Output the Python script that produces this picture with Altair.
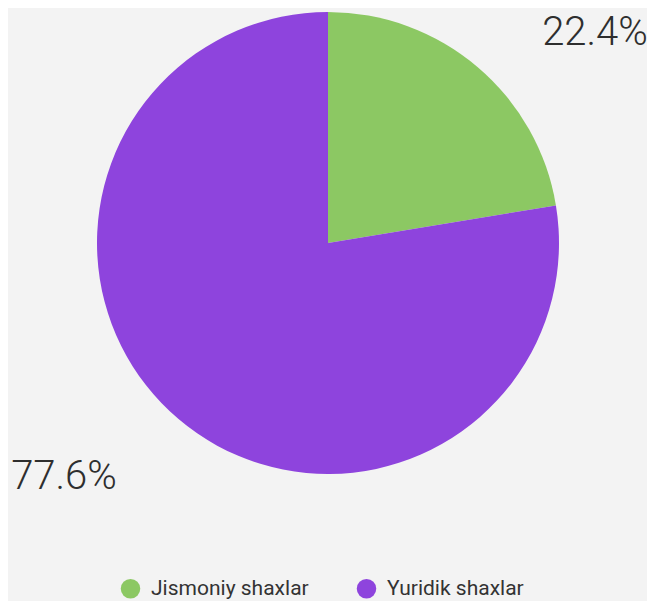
import altair as alt
import pandas as pd

categories = ["Jismoniy shaxlar", "Yuridik shaxlar"]
values = [22.4, 77.6]
labels = ["22.4%", "77.6%"]
colors = ["#8cc863", "#8e44dd"]

df = pd.DataFrame({"cat": categories, "val": values, "label": labels, "order": [0, 1]})

theta_scale = alt.Scale(domain=[0, 100])

pie = alt.Chart(df).mark_arc(radius=231, stroke=None).encode(
    theta=alt.Theta("val:Q", stack=True, scale=theta_scale),
    order=alt.Order("order:Q"),
    color=alt.Color(
        "cat:N",
        scale=alt.Scale(domain=categories, range=colors),
        sort=categories,
        legend=alt.Legend(
            title=None,
            orient="none",
            legendX=112,
            legendY=570,
            direction="horizontal",
            symbolType="circle",
            symbolSize=380,
            symbolStrokeWidth=0,
            labelFont="Roboto",
            labelFontSize=21,
            labelColor="#333333",
            labelOffset=10,
            columnPadding=47,
            labelLimit=300,
        ),
    ),
    x=alt.value(320),
    y=alt.value(235),
)

text_base = (
    alt.Chart(df)
    .transform_window(cum="sum(val)", sort=[alt.SortField("order")], frame=[None, 0])
    .transform_calculate(mid="datum.cum - datum.val / 2")
)


def label_layer(cat, dx, dy):
    return (
        text_base.transform_filter(alt.datum.cat == cat)
        .mark_text(radius=340, font="Roboto", fontSize=40, fontWeight=300,
                   color="#2e2e2e", dx=dx, dy=dy)
        .encode(
            theta=alt.Theta("mid:Q", stack=None, scale=theta_scale),
            text="label:N",
            x=alt.value(320),
            y=alt.value(235),
        )
    )


lab1 = label_layer(categories[0], 47, 49)
lab2 = label_layer(categories[1], -44, -25)

chart = (
    alt.layer(pie, lab1, lab2)
    .properties(width=639, height=593, autosize=alt.AutoSizeParams(type="none"), padding=0,
                background="#f3f3f3")
    .configure_view(stroke=None)
)

chart.save("out.html", embed_options={"renderer": "svg", "actions": False})
